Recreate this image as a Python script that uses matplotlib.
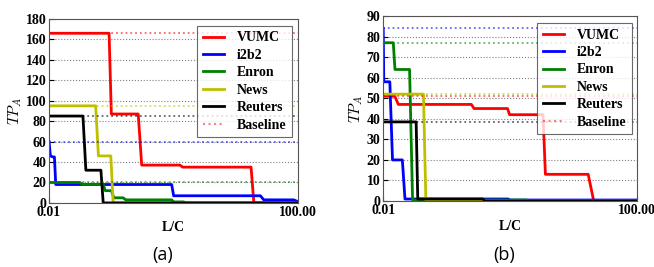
import matplotlib
matplotlib.use("Agg")
import matplotlib.pyplot as plt

# Panel (a): breakpoints (L/C, TP_A)
a_vumc_x = [0.01, 0.092, 0.1, 0.27, 0.307, 1.26, 1.4, 17.5, 19.4, 100]
a_vumc_y = [166, 166, 87, 87, 37, 37, 35, 35, 0, 0]
a_i2b2_x = [0.01, 0.0105, 0.0115, 0.0122, 0.0128, 0.93, 1.0, 24.7, 28, 85, 100]
a_i2b2_y = [60, 46, 45, 45, 18, 18, 7, 7, 3, 3, 1]
a_enron_x = [0.01, 0.031, 0.035, 0.074, 0.08, 0.1, 0.11, 0.155, 0.17, 0.93, 1.0, 1.44, 1.6, 100]
a_enron_y = [20, 20, 18, 18, 12, 12, 5, 5, 3, 3, 1, 1, 0, 0]
a_news_x = [0.01, 0.056, 0.062, 0.098, 0.107, 100]
a_news_y = [95, 95, 46, 46, 0, 0]
a_reut_x = [0.01, 0.035, 0.039, 0.068, 0.074, 100]
a_reut_y = [85, 85, 32, 32, 0, 0]
a_base = {"VUMC": 166, "i2b2": 60, "Enron": 20, "News": 95, "Reuters": 85}

# Panel (b)
b_vumc_x = [0.01, 0.0152, 0.0173, 0.245, 0.27, 0.91, 0.98, 3.3, 3.6, 17, 20.8, 100]
b_vumc_y = [51, 51, 47, 47, 45, 45, 42, 42, 13, 13, 0, 0]
b_i2b2_x = [0.01, 0.0102, 0.0127, 0.014, 0.02, 0.022, 0.93, 1.0, 100]
b_i2b2_y = [84, 58, 58, 20, 20, 1, 1, 0.5, 0.5]
b_enron_x = [0.01, 0.0144, 0.0153, 0.026, 0.029, 1.8, 2.0, 100]
b_enron_y = [77, 77, 64, 64, 0.5, 0.5, 0, 0]
b_news_x = [0.01, 0.043, 0.047, 100]
b_news_y = [52, 52, 0, 0]
b_reut_x = [0.01, 0.033, 0.035, 0.37, 0.4, 100]
b_reut_y = [38.5, 38.5, 1, 1, 0, 0]
b_base = {"VUMC": 51, "i2b2": 84, "Enron": 77, "News": 52, "Reuters": 38.5}

colors = {"VUMC": "#ff0000", "i2b2": "#0000ff", "Enron": "#008000",
          "News": "#bfbf00", "Reuters": "#000000"}

plt.rcParams["font.family"] = "Liberation Serif"
plt.rcParams["mathtext.fontset"] = "cm"

fig = plt.figure(figsize=(6.54, 2.67), dpi=100)
ax_a = fig.add_axes([0.075, 0.240, 0.381, 0.689])
ax_b = fig.add_axes([0.586, 0.247, 0.388, 0.693])


def draw(ax, series, base, ymax, ystep, legend_anchor):
    for name, (xs, ys) in series.items():
        ax.plot(xs, ys, color=colors[name], lw=2, label=name)
    for name, v in base.items():
        ax.axhline(v, color=colors[name], ls=":", lw=1.3, alpha=0.6)
    ax.plot([], [], color="#ff0000", ls=":", lw=1.5, alpha=0.5, label="Baseline")
    ax.set_xscale("log")
    ax.set_xlim(0.01, 100)
    ax.set_ylim(0, ymax)
    ax.set_xticks([0.01, 100])
    ax.set_xticklabels(["0.01", "100.00"])
    ax.minorticks_off()
    ax.set_yticks(range(0, ymax + 1, ystep))
    ax.yaxis.grid(True, ls=":", color="gray", lw=0.8)
    ax.tick_params(direction="in", labelsize=10, pad=2)
    for lab in ax.get_xticklabels() + ax.get_yticklabels():
        lab.set_fontweight("bold")
    ax.set_xlabel("L/C", fontsize=10, fontweight="bold", labelpad=2)
    ax.set_ylabel("$TP_A$", fontsize=11, labelpad=1)
    for s in ax.spines.values():
        s.set_color("#555555")
    leg = ax.legend(loc="upper right", bbox_to_anchor=legend_anchor,
                    frameon=True, fancybox=False, edgecolor="#444444",
                    handlelength=1.5, handletextpad=0.9, borderpad=0.4,
                    labelspacing=0.32, borderaxespad=0.3,
                    prop={"weight": "bold", "size": 10})
    leg.get_frame().set_linewidth(0.8)


draw(ax_a, {"VUMC": (a_vumc_x, a_vumc_y), "i2b2": (a_i2b2_x, a_i2b2_y),
            "Enron": (a_enron_x, a_enron_y), "News": (a_news_x, a_news_y),
            "Reuters": (a_reut_x, a_reut_y)}, a_base, 180, 20, (0.99, 0.985))
draw(ax_b, {"VUMC": (b_vumc_x, b_vumc_y), "i2b2": (b_i2b2_x, b_i2b2_y),
            "Enron": (b_enron_x, b_enron_y), "News": (b_news_x, b_news_y),
            "Reuters": (b_reut_x, b_reut_y)}, b_base, 90, 10, (0.995, 0.985))

fig.text(0.249, 0.045, "(a)", fontsize=13, family="Open Sans", ha="center", va="center")
fig.text(0.771, 0.045, "(b)", fontsize=13, family="Open Sans", ha="center", va="center")

fig.savefig("out.png", dpi=100)
